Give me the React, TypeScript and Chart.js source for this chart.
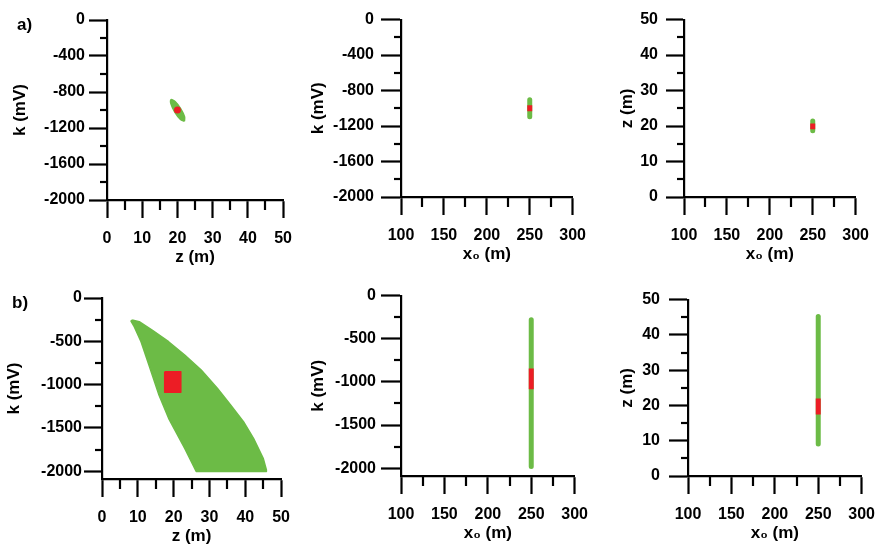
import React, { useEffect, useRef } from 'react';
import { Chart, registerables } from 'chart.js';

Chart.register(...registerables);

// ---------- tick labels ----------
const K_TICKS_A = [0, -400, -800, -1200, -1600, -2000];
const K_MINOR_A = [-200, -600, -1000, -1400, -1800];
const K_TICKS_B = [0, -500, -1000, -1500, -2000];
const K_MINOR_B = [-250, -750, -1250, -1750];
const Z_TICKS = [0, 10, 20, 30, 40, 50];
const Z_MINOR = [5, 15, 25, 35, 45];
const X0_TICKS = [100, 150, 200, 250, 300];
const X0_MINOR = [125, 175, 225, 275];

// ---------- a) data ----------
// outline of the accepted-solution cloud in the z-k plane
const A_CLOUD_Z = [21.99, 22.02, 20.91, 19.34, 18.2, 18.18, 19.28, 20.86];
const A_CLOUD_K = [-1125, -1075, -984, -905, -885, -935, -1026, -1105];
const A_BEST_Z = [20];
const A_BEST_K = [-1000];
const A_X0 = [250, 250];
const A_K_RANGE = [-905, -1095];
const A_K_BEST = [-967, -1033];
const A_Z_RANGE = [18.7, 21.4];
const A_Z_BEST = [19.1, 20.7];

// ---------- b) data ----------
const B_CLOUD_Z = [8.4, 10.4, 14.0, 18.6, 23.1, 27.7, 32.2, 35.9, 39.5, 42.3, 45.0, 45.9, 45.9, 26.3, 23.1, 18.6, 15.9, 13.1, 10.9, 9.0, 8.1];
const B_CLOUD_K = [-254, -274, -370, -505, -658, -831, -1043, -1236, -1428, -1620, -1851, -1986, -2003, -2003, -1736, -1389, -1120, -774, -505, -331, -266];
const B_BEST_Z = [17.5, 22.0, 22.0, 17.5];
const B_BEST_K = [-851, -851, -1089, -1089];
const B_X0 = [250, 250];
const B_K_RANGE = [-280, -1980];
const B_K_BEST = [-845, -1085];
const B_Z_RANGE = [9.1, 45.2];
const B_Z_BEST = [17.4, 22.0];

const GREEN = '#6cbb46';
const RED = '#ec1d25';
const FONT = "'Liberation Sans', Arial, Helvetica, sans-serif";
const TICK_SIZE = 16;
const TITLE_SIZE = 17;
const AXIS_W = 2.2;
const PT = 14;
const PR = 16;
const H = 68;

const pts = (xs: number[], ys: number[], close = false) => {
  const out = xs.map((x, i) => ({ x, y: ys[i] }));
  if (close) out.push({ ...out[0] });
  return out;
};

const polygon = (xs: number[], ys: number[], color: string, tension = 0) => ({
  data: pts(xs, ys, true),
  showLine: true,
  fill: 'shape',
  backgroundColor: color,
  borderColor: color,
  borderWidth: 1.5,
  borderJoinStyle: 'round',
  pointRadius: 0,
  tension,
});

const segment = (xs: number[], ys: number[], color: string, cap: string) => ({
  data: pts(xs, ys),
  showLine: true,
  fill: false,
  borderColor: color,
  backgroundColor: color,
  borderWidth: 5,
  borderCapStyle: cap,
  pointRadius: 0,
});

const dot = (xs: number[], ys: number[], color: string) => ({
  data: pts(xs, ys),
  showLine: false,
  backgroundColor: color,
  borderColor: color,
  borderWidth: 0,
  pointRadius: 3.5,
});

type PanelSpec = {
  id: string;
  area: number[];
  x: number[];
  y: number[];
  xTicks: number[];
  xMinor: number[];
  yTicks: number[];
  yMinor: number[];
  xTitle: string;
  yTitle: string;
  yTick: number;
  yPad: number;
  yTitleDist: number;
  datasets: () => any[];
};

// Note: Chart.js paints the first dataset on top, so the red "best" marks come first.
const PANELS: PanelSpec[] = [
  {
    id: 'a1', area: [107, 20, 287, 200], x: [0, 50], y: [-2000, 0],
    xTicks: Z_TICKS, xMinor: Z_MINOR, yTicks: K_TICKS_A, yMinor: K_MINOR_A,
    xTitle: 'z (m)', yTitle: 'k (mV)', yTick: 18, yPad: 4, yTitleDist: 87,
    datasets: () => [dot(A_BEST_Z, A_BEST_K, RED), polygon(A_CLOUD_Z, A_CLOUD_K, GREEN, 0.3)],
  },
  {
    id: 'a2', area: [401, 17, 581, 197], x: [100, 300], y: [-2000, 0],
    xTicks: X0_TICKS, xMinor: X0_MINOR, yTicks: K_TICKS_A, yMinor: K_MINOR_A,
    xTitle: 'x₀ (m)', yTitle: 'k (mV)', yTick: 20, yPad: 7, yTitleDist: 83,
    datasets: () => [segment(A_X0, A_K_BEST, RED, 'butt'), segment(A_X0, A_K_RANGE, GREEN, 'round')],
  },
  {
    id: 'a3', area: [684, 16, 864, 197], x: [100, 300], y: [0, 50],
    xTicks: X0_TICKS, xMinor: X0_MINOR, yTicks: Z_TICKS, yMinor: Z_MINOR,
    xTitle: 'x₀ (m)', yTitle: 'z (m)', yTick: 18, yPad: 8, yTitleDist: 57,
    datasets: () => [segment(A_X0, A_Z_BEST, RED, 'butt'), segment(A_X0, A_Z_RANGE, GREEN, 'round')],
  },
  {
    id: 'b1', area: [102, 298, 285, 479], x: [0, 50], y: [-2090, 0],
    xTicks: Z_TICKS, xMinor: Z_MINOR, yTicks: K_TICKS_B, yMinor: K_MINOR_B,
    xTitle: 'z (m)', yTitle: 'k (mV)', yTick: 18, yPad: 2, yTitleDist: 88,
    datasets: () => [polygon(B_BEST_Z, B_BEST_K, RED), polygon(B_CLOUD_Z, B_CLOUD_K, GREEN)],
  },
  {
    id: 'b2', area: [401, 295, 583, 476], x: [100, 300], y: [-2090, 0],
    xTicks: X0_TICKS, xMinor: X0_MINOR, yTicks: K_TICKS_B, yMinor: K_MINOR_B,
    xTitle: 'x₀ (m)', yTitle: 'k (mV)', yTick: 20, yPad: 5, yTitleDist: 83,
    datasets: () => [segment(B_X0, B_K_BEST, RED, 'butt'), segment(B_X0, B_K_RANGE, GREEN, 'round')],
  },
  {
    id: 'b3', area: [688, 295, 870, 476], x: [100, 300], y: [0, 50],
    xTicks: X0_TICKS, xMinor: X0_MINOR, yTicks: Z_TICKS, yMinor: Z_MINOR,
    xTitle: 'x₀ (m)', yTitle: 'z (m)', yTick: 19, yPad: 9, yTitleDist: 61,
    datasets: () => [segment(B_X0, B_Z_BEST, RED, 'butt'), segment(B_X0, B_Z_RANGE, GREEN, 'round')],
  },
];

function Panel({ p }: { p: PanelSpec }) {
  const ref = useRef<HTMLCanvasElement>(null);
  const W = Math.round(p.yTitleDist + 10);
  const [l, t, r, b] = p.area;
  const cw = W + (r - l) + PR;
  const ch = PT + (b - t) + H;

  useEffect(() => {
    if (!ref.current) return;
    const minorPlugin = {
      id: 'minorTicks_' + p.id,
      afterDraw(chart: any) {
        const { ctx, chartArea } = chart;
        const xs = chart.scales.x;
        const ys = chart.scales.y;
        ctx.save();
        ctx.strokeStyle = '#000';
        ctx.lineWidth = AXIS_W;
        p.xMinor.forEach((v) => {
          const px = Math.round(xs.getPixelForValue(v));
          ctx.beginPath();
          ctx.moveTo(px, chartArea.bottom);
          ctx.lineTo(px, chartArea.bottom + 10);
          ctx.stroke();
        });
        p.yMinor.forEach((v) => {
          const py = Math.round(ys.getPixelForValue(v));
          ctx.beginPath();
          ctx.moveTo(chartArea.left, py);
          ctx.lineTo(chartArea.left - 7, py);
          ctx.stroke();
        });
        ctx.restore();
      },
    };
    const tickFont = { family: FONT, size: TICK_SIZE, weight: 'bold' as const };
    const titleFont = { family: FONT, size: TITLE_SIZE, weight: 'bold' as const };
    const chart = new Chart(ref.current, {
      type: 'scatter',
      data: { datasets: p.datasets() },
      options: {
        animation: false,
        responsive: false,
        maintainAspectRatio: false,
        devicePixelRatio: 1,
        events: [],
        layout: { padding: { left: 0, top: PT, right: PR, bottom: 0 } },
        plugins: { legend: { display: false }, tooltip: { enabled: false } },
        scales: {
          x: {
            type: 'linear',
            position: 'bottom',
            min: p.x[0],
            max: p.x[1],
            afterBuildTicks: (s: any) => { s.ticks = p.xTicks.map((v) => ({ value: v })); },
            afterFit: (s: any) => { s.height = H; },
            grid: { display: true, drawOnChartArea: false, drawTicks: true, tickLength: 18, tickWidth: AXIS_W, tickColor: '#000' },
            border: { display: true, color: '#000', width: AXIS_W },
            ticks: { color: '#000', font: tickFont, padding: 11, maxRotation: 0, autoSkip: false, callback: (v: any) => String(v) },
            title: { display: true, text: p.xTitle, color: '#000', font: titleFont, padding: 0 },
          },
          y: {
            type: 'linear',
            position: 'left',
            min: p.y[0],
            max: p.y[1],
            afterBuildTicks: (s: any) => { s.ticks = p.yTicks.map((v) => ({ value: v })); },
            afterFit: (s: any) => { s.width = W; },
            grid: { display: true, drawOnChartArea: false, drawTicks: true, tickLength: p.yTick, tickWidth: AXIS_W, tickColor: '#000' },
            border: { display: true, color: '#000', width: AXIS_W },
            ticks: { color: '#000', font: tickFont, padding: p.yPad, autoSkip: false, callback: (v: any) => String(v) },
            title: { display: true, text: p.yTitle, color: '#000', font: titleFont, padding: 0 },
          },
        },
      } as any,
      plugins: [minorPlugin],
    });
    return () => chart.destroy();
  }, []);

  return (
    <canvas
      ref={ref}
      width={cw}
      height={ch}
      style={{ position: 'absolute', left: l - W, top: t - PT, width: cw, height: ch }}
    />
  );
}

export default function App() {
  const labelStyle: React.CSSProperties = {
    position: 'absolute',
    fontFamily: FONT,
    fontWeight: 'bold',
    fontSize: 17,
    lineHeight: '20px',
    color: '#000',
  };
  return (
    <div style={{ position: 'absolute', left: 0, top: 0, width: 886, height: 550, overflow: 'hidden', background: '#fff' }}>
      {PANELS.map((p) => <Panel key={p.id} p={p} />)}
      <div style={{ ...labelStyle, left: 17, top: 15 }}>a)</div>
      <div style={{ ...labelStyle, left: 12, top: 293 }}>b)</div>
    </div>
  );
}
